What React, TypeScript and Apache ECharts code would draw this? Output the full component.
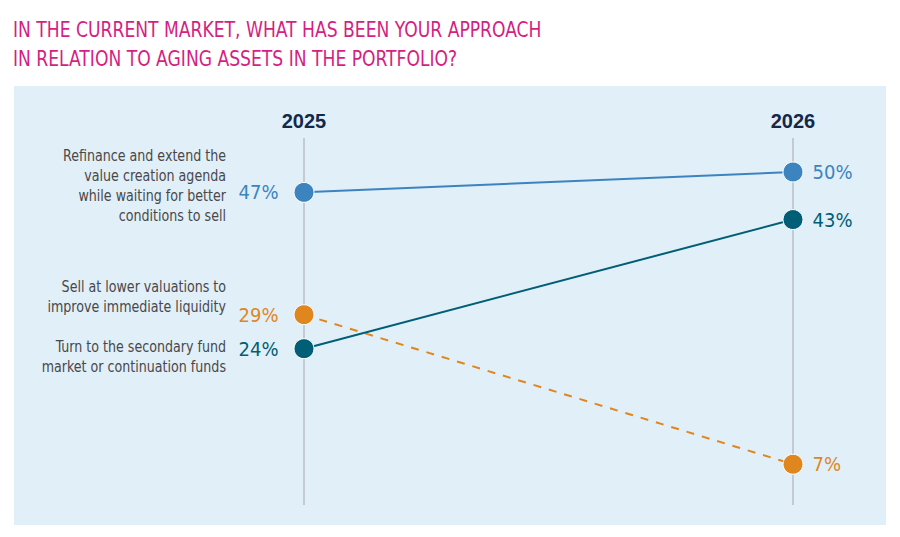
import React, { useEffect, useRef } from "react";
import * as echarts from "echarts";

const years = ["2025", "2026"];
const seriesNames = [
  "Refinance and extend the\nvalue creation agenda\nwhile waiting for better\nconditions to sell",
  "Sell at lower valuations to\nimprove immediate liquidity",
  "Turn to the secondary fund\nmarket or continuation funds",
];
const refinanceValues = [47, 50];
const sellValues = [29, 7];
const secondaryValues = [24, 43];
const titleText =
  "IN THE CURRENT MARKET, WHAT HAS BEEN YOUR APPROACH\nIN RELATION TO AGING ASSETS IN THE PORTFOLIO?";

const FONT = "'Liberation Sans Narrow', 'DejaVu Sans Condensed', 'Liberation Sans', sans-serif";
const colors = ["#3b84c0", "#005e76", "#e0861f"];

export default function App() {
  const ref = useRef<HTMLDivElement>(null);
  useEffect(() => {
    document.body.style.margin = "0";
    if (!ref.current) return;
    const chart = echarts.init(ref.current, null, { renderer: "svg" });

    const mkData = (vals: number[], color: string) =>
      vals.map((v, i) => ({
        value: v,
        label: {
          show: true,
          position: i === 0 ? "left" : "right",
          distance: i === 0 ? 15 : 9,
          formatter: "{c}%",
          color,
          fontSize: 20,
          fontFamily: FONT,
        },
      }));

    const annotationY = [186, 297, 357];

    chart.setOption({
      animation: false,
      backgroundColor: "#ffffff",
      graphic: [
        {
          type: "rect",
          z: -10,
          shape: { x: 14, y: 86, width: 872, height: 439 },
          style: { fill: "#e1eff8" },
        },
        {
          type: "text",
          x: 13,
          y: 15,
          scaleX: 0.868,
          style: {
            text: titleText,
            fill: "#d41f83",
            fontSize: 22,
            lineHeight: 29,
            fontFamily: FONT,
          },
        },
        ...seriesNames.map((t, i) => ({
          type: "text",
          x: 226,
          y: annotationY[i],
          scaleX: 0.88,
          style: {
            text: t,
            align: "right",
            verticalAlign: "middle",
            fill: "#48484a",
            fontSize: 16,
            lineHeight: 20,
            fontFamily: FONT,
          },
        })),
      ],
      grid: { left: 304, right: 107, top: 138, bottom: 32 },
      xAxis: {
        type: "category",
        data: years,
        boundaryGap: false,
        position: "top",
        axisLine: { show: false },
        axisTick: { show: false },
        axisLabel: {
          color: "#14284a",
          fontSize: 20,
          fontWeight: "bold",
          fontFamily: "'Liberation Sans', Arial, sans-serif",
          margin: 7,
        },
        splitLine: { show: true, lineStyle: { color: "#c3cad2", width: 2 } },
      },
      yAxis: {
        type: "value",
        min: 1,
        max: 55,
        show: false,
        splitLine: { show: false },
      },
      series: [
        {
          name: seriesNames[0],
          type: "line",
          data: mkData(refinanceValues, colors[0]),
          symbol: "circle",
          symbolSize: 20,
          lineStyle: { color: colors[0], width: 2 },
          itemStyle: { color: colors[0], borderColor: "#ffffff", borderWidth: 1 },
          z: 3,
        },
        {
          name: seriesNames[1],
          type: "line",
          data: mkData(sellValues, colors[2]),
          symbol: "circle",
          symbolSize: 20,
          lineStyle: { color: colors[2], width: 2, type: [8, 8] },
          itemStyle: { color: colors[2], borderColor: "#ffffff", borderWidth: 1 },
          z: 2,
        },
        {
          name: seriesNames[2],
          type: "line",
          data: mkData(secondaryValues, colors[1]),
          symbol: "circle",
          symbolSize: 20,
          lineStyle: { color: colors[1], width: 2 },
          itemStyle: { color: colors[1], borderColor: "#ffffff", borderWidth: 1 },
          z: 3,
        },
      ],
    });
    return () => chart.dispose();
  }, []);
  return <div ref={ref} style={{ width: 900, height: 537 }} />;
}
